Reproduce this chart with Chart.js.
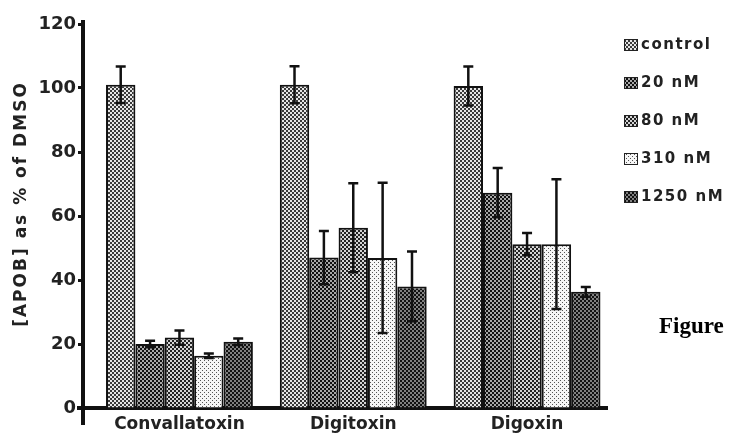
<!DOCTYPE html>
<html>
<head>
<meta charset="utf-8">
<script src="https://cdn.jsdelivr.net/npm/chart.js@4/dist/chart.umd.min.js"></script>
<style>
  html, body { margin: 0; padding: 0; background: #fff; }
  #wrap { width: 740px; height: 444px; position: relative; }
</style>
</head>
<body>
<div id="wrap"><canvas id="c"></canvas></div>
<script>
// Compounds on the x axis
const categories = ['Convallatoxin', 'Digitoxin', 'Digoxin'];
// Treatment series (legend order)
const seriesNames = ['control', '20 nM', '80 nM', '310 nM', '1250 nM'];
// [APOB] as % of DMSO, one array per treatment
const control = [101, 101, 100.6];
const nM20 = [20, 47, 67.3];
const nM80 = [22, 56.3, 51.2];
const nM310 = [16.3, 46.9, 51.2];
const nM1250 = [20.7, 38, 36.3];
// Error bar half-widths
const control_err = [5.7, 5.8, 6.1];
const nM20_err = [1, 8.3, 7.7];
const nM80_err = [2.2, 13.9, 3.5];
const nM310_err = [0.7, 23.5, 20.3];
const nM1250_err = [1, 10.9, 1.5];
// Y axis ticks
const yTicks = [0, 20, 40, 60, 80, 100, 120];

const values = [control, nM20, nM80, nM310, nM1250];
const errors = [control_err, nM20_err, nM80_err, nM310_err, nM1250_err];

// Halftone-style dot fills
function dots(bg, fg, tile, dot) {
  const c = document.createElement('canvas');
  c.width = tile; c.height = tile;
  const g = c.getContext('2d');
  g.fillStyle = bg; g.fillRect(0, 0, tile, tile);
  g.fillStyle = fg;
  g.fillRect(0, 0, dot, dot);
  g.fillRect(tile / 2, tile / 2, dot, dot);
  return document.createElement('canvas').getContext('2d').createPattern(c, 'repeat');
}
const fills = [
  dots('#e6e6e6', '#3a3a3a', 4, 2),
  dots('#a8a8a8', '#111111', 4, 2),
  dots('#d4d4d4', '#222222', 4, 2),
  dots('#f6f6f6', '#555555', 4, 1),
  dots('#808080', '#111111', 4, 2)
];

const FONT = '"DejaVu Sans", sans-serif';

const datasets = seriesNames.map((name, s) => ({
  label: name,
  data: values[s].map((v, i) => ({ x: i, y: v })),
  backgroundColor: fills[s],
  borderColor: '#111',
  borderWidth: 2,
  categoryPercentage: 0.845,
  barPercentage: 1.0
}));

const errorBars = {
  id: 'errorBars',
  afterDatasetsDraw(chart) {
    const ctx = chart.ctx;
    const y = chart.scales.y;
    ctx.save();
    ctx.strokeStyle = '#111';
    ctx.lineWidth = 2.5;
    chart.data.datasets.forEach((ds, s) => {
      const meta = chart.getDatasetMeta(s);
      meta.data.forEach((bar, i) => {
        const v = values[s][i], e = errors[s][i];
        const top = y.getPixelForValue(v + e), bot = y.getPixelForValue(v - e);
        const x = bar.x, cap = 5;
        ctx.beginPath();
        ctx.moveTo(x, top); ctx.lineTo(x, bot);
        ctx.moveTo(x - cap, top); ctx.lineTo(x + cap, top);
        ctx.moveTo(x - cap, bot); ctx.lineTo(x + cap, bot);
        ctx.stroke();
      });
    });
    ctx.restore();
  }
};

const decorations = {
  id: 'decorations',
  afterDraw(chart) {
    const ctx = chart.ctx;
    const a = chart.chartArea;
    ctx.save();
    // axis stubs past the origin
    ctx.strokeStyle = '#111';
    ctx.lineWidth = 4;
    ctx.beginPath();
    ctx.moveTo(a.left, a.top - 4); ctx.lineTo(a.left, a.bottom + 17);
    ctx.moveTo(a.left - 6, a.bottom); ctx.lineTo(a.left, a.bottom);
    ctx.stroke();
    // y axis title
    ctx.fillStyle = '#222';
    ctx.font = 'bold 17px ' + FONT;
    ctx.textAlign = 'center';
    ctx.textBaseline = 'middle';
    ctx.translate(22, 204);
    ctx.rotate(-Math.PI / 2);
    ctx.letterSpacing = '2px';
    ctx.fillText('[APOB] as % of DMSO', 0, 0);
    ctx.restore();

    // legend
    ctx.save();
    ctx.font = 'bold 15px ' + FONT;
    ctx.textBaseline = 'middle';
    ctx.textAlign = 'left';
    ctx.letterSpacing = '1.5px';
    seriesNames.forEach((name, s) => {
      const yy = 45 + s * 38;
      ctx.fillStyle = fills[s];
      ctx.fillRect(624, yy - 6, 14, 12);
      ctx.strokeStyle = '#222';
      ctx.lineWidth = 1;
      ctx.strokeRect(624.5, yy - 5.5, 13, 11);
      ctx.fillStyle = '#222';
      ctx.fillText(name, 641, yy);
    });
    ctx.restore();

    ctx.save();
    ctx.fillStyle = '#000';
    ctx.font = 'bold 23px "Liberation Serif", serif';
    ctx.textBaseline = 'alphabetic';
    ctx.fillText('Figure', 659, 333);
    ctx.restore();
  }
};

new Chart(document.getElementById('c'), {
  type: 'bar',
  data: { datasets },
  options: {
    responsive: true,
    maintainAspectRatio: false,
    animation: false,
    layout: { padding: { left: 0, right: 133, top: 24, bottom: 0 } },
    plugins: { legend: { display: false }, tooltip: { enabled: false } },
    scales: {
      x: {
        type: 'linear',
        min: -0.555,
        max: 2.46,
        offset: false,
        afterBuildTicks(scale) { scale.ticks = categories.map((_, i) => ({ value: i })); },
        afterFit(scale) { scale.height = 36; },
        ticks: {
          callback: (v) => categories[v],
          color: '#222',
          font: { family: FONT, size: 17, weight: 'bold' },
          padding: 6,
          maxRotation: 0,
          autoSkip: false
        },
        grid: { display: true, drawOnChartArea: false, drawTicks: false, tickLength: 0 },
        border: { display: true, color: '#111', width: 4 }
      },
      y: {
        min: 0,
        max: 120,
        afterBuildTicks(scale) { scale.ticks = yTicks.map(v => ({ value: v })); },
        afterFit(scale) { scale.width = 83; },
        ticks: {
          color: '#222',
          font: { family: FONT, size: 18, weight: 'bold' },
          padding: 2
        },
        grid: { drawOnChartArea: false, drawTicks: true, tickLength: 5, tickWidth: 3, color: '#111' },
        border: { display: true, color: '#111', width: 4 }
      }
    }
  },
  plugins: [errorBars, decorations]
});
</script>
</body>
</html>
